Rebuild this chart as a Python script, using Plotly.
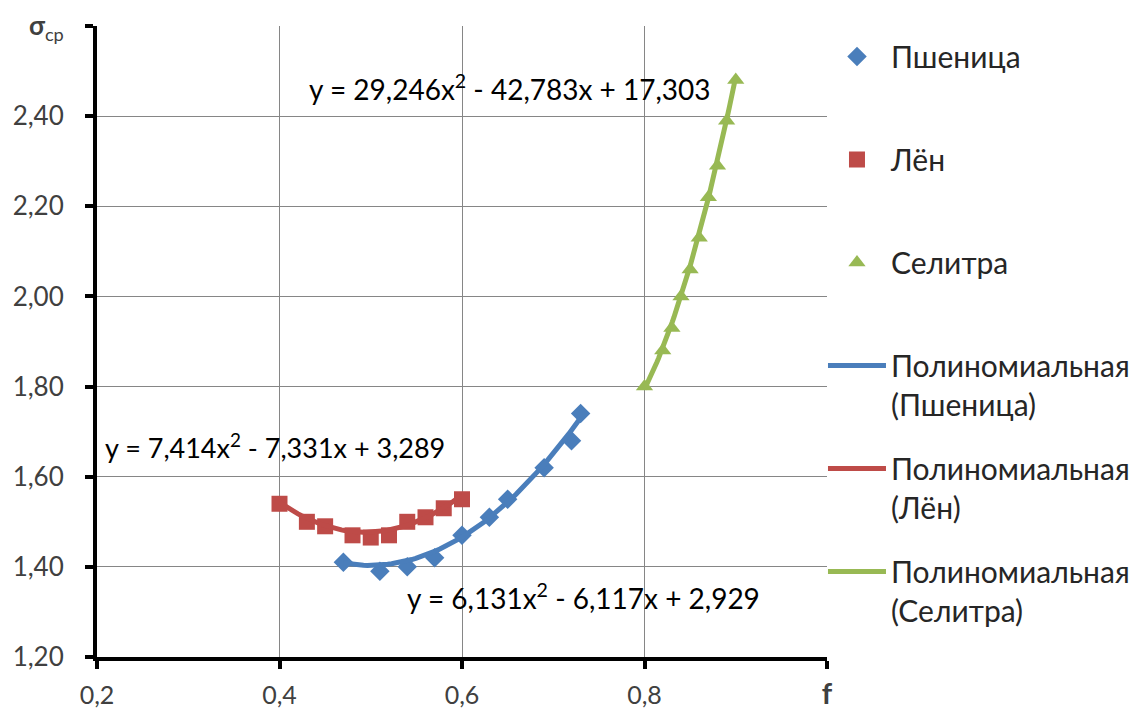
import numpy as np
import plotly.graph_objects as go

# ---- data ----
wheat_x = [0.47, 0.51, 0.54, 0.57, 0.60, 0.63, 0.65, 0.69, 0.72, 0.73]
wheat_y = [1.41, 1.39, 1.40, 1.42, 1.47, 1.51, 1.55, 1.62, 1.68, 1.74]

flax_x = [0.40, 0.43, 0.45, 0.48, 0.50, 0.52, 0.54, 0.56, 0.58, 0.60]
flax_y = [1.54, 1.50, 1.49, 1.47, 1.465, 1.47, 1.50, 1.51, 1.53, 1.55]

salt_x = [0.80, 0.82, 0.83, 0.84, 0.85, 0.86, 0.87, 0.88, 0.89, 0.90]
salt_y = [1.80, 1.88, 1.93, 2.00, 2.06, 2.13, 2.22, 2.29, 2.39, 2.48]

# trendline coefficients shown on the chart (a, b, c for a*x^2 + b*x + c)
wheat_coef = [6.131, -6.117, 2.929]
flax_coef = [7.414, -7.331, 3.289]
salt_coef = [29.246, -42.783, 17.303]

x_ticks = [0.2, 0.4, 0.6, 0.8, 1.0]
x_ticktext = ["0,2", "0,4", "0,6", "0,8",
              "<span style='font-size:29px'><b>f</b></span>"]
y_ticks = [1.2, 1.4, 1.6, 1.8, 2.0, 2.2, 2.4, 2.6]
y_ticktext = ["1,20", "1,40", "1,60", "1,80", "2,00", "2,20", "2,40",
              "<b>σ</b><sub>cp</sub>"]

BLUE = "#4A7EBB"
RED = "#BE4B48"
GREEN = "#98B954"
FONT = "Lato, 'Open Sans', sans-serif"
TXT = "#404040"


def trend(xs, coef):
    xx = np.linspace(min(xs), max(xs), 60)
    return xx, np.polyval(coef, xx)


fig = go.Figure()
fig.add_trace(go.Scatter(x=wheat_x, y=wheat_y, mode="markers", name="Пшеница<br> ",
                         legendgroup="a",
                         marker=dict(symbol="diamond", size=15, color=BLUE)))
fig.add_trace(go.Scatter(x=flax_x, y=flax_y, mode="markers", name="Лён<br> ",
                         legendgroup="b",
                         marker=dict(symbol="square", size=16, color=RED)))
fig.add_trace(go.Scatter(x=salt_x, y=salt_y, mode="markers", name="Селитра<br> ",
                         legendgroup="c",
                         marker=dict(symbol="triangle-up", size=15, color=GREEN)))

for xs, coef, col, nm, g in [(wheat_x, wheat_coef, BLUE, "Пшеница", "d"),
                             (flax_x, flax_coef, RED, "Лён", "e"),
                             (salt_x, salt_coef, GREEN, "Селитра", "f")]:
    tx, ty = trend(xs, coef)
    fig.add_trace(go.Scatter(x=tx, y=ty, mode="lines",
                             name=f"Полиномиальная<br>({nm})",
                             legendgroup=g,
                             line=dict(color=col, width=5)))


def eq(coef):
    f = lambda v: f"{abs(v):.3f}".replace(".", ",")
    s1 = "-" if coef[1] < 0 else "+"
    s2 = "-" if coef[2] < 0 else "+"
    return f"y = {f(coef[0])}x<sup>2</sup> {s1} {f(coef[1])}x {s2} {f(coef[2])}"


ann_font = dict(family=FONT, size=28, color="#000000")
fig.add_annotation(x=0.6526, y=2.464, text=eq(salt_coef), showarrow=False, font=ann_font)
fig.add_annotation(x=0.395, y=1.668, text=eq(flax_coef), showarrow=False,
                   font=dict(family=FONT, size=27, color="#000000"))
fig.add_annotation(x=0.7326, y=1.335, text=eq(wheat_coef), showarrow=False, font=ann_font)

axis_common = dict(showgrid=True, gridcolor="#868686", gridwidth=1,
                   showline=True, linecolor="#000000", linewidth=4,
                   ticks="outside", ticklen=8, tickwidth=4, tickcolor="#000000",
                   zeroline=False, automargin=False)

# the page body adds an 8px margin, so the figure is sized to fit inside it
fig.update_layout(
    width=1129, height=703,
    margin=dict(l=89, r=310, t=18, b=54, autoexpand=False),
    paper_bgcolor="white", plot_bgcolor="white",
    font=dict(family=FONT, size=26, color=TXT),
    showlegend=True,
    legend=dict(x=0.9945, xanchor="left", y=0.993, yanchor="top",
                valign="top", tracegroupgap=22, itemwidth=58, maxheight=700,
                font=dict(family=FONT, size=30, color="#262626"),
                bgcolor="rgba(0,0,0,0)"),
    xaxis=dict(range=[0.2, 1.0], tickvals=x_ticks, ticktext=x_ticktext,
               ticklabelstandoff=5, tickfont=dict(family=FONT, size=25, color=TXT),
               **axis_common),
    yaxis=dict(range=[1.2, 2.6], tickvals=y_ticks, ticktext=y_ticktext,
               ticklabelstandoff=16, tickfont=dict(family=FONT, size=26, color=TXT),
               **axis_common),
)

fig.write_html("out.html")
